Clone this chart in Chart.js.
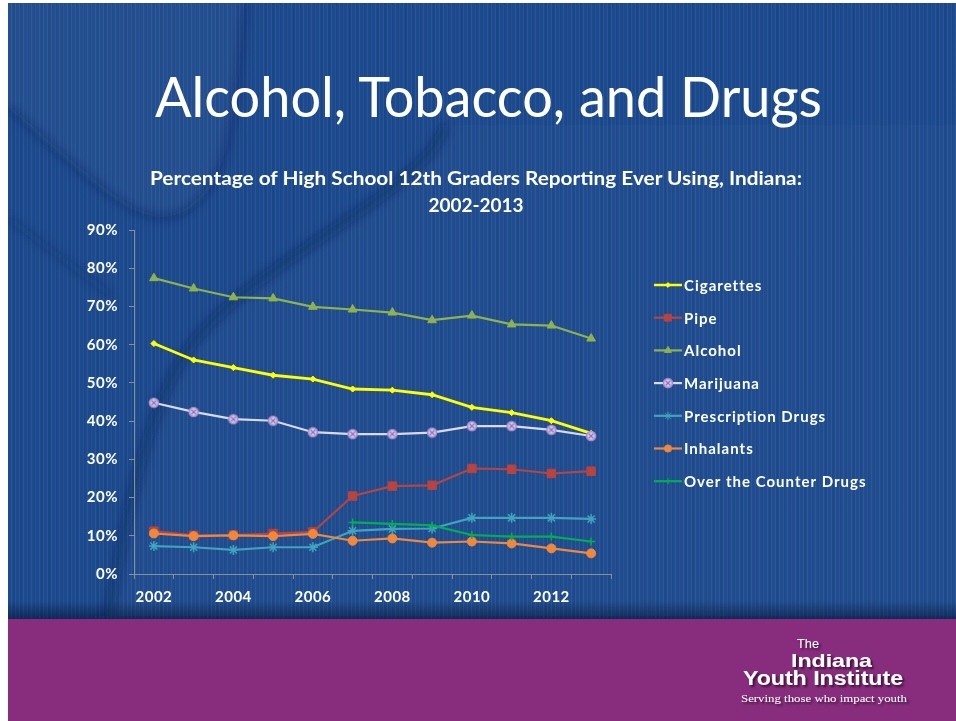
<!DOCTYPE html>
<html>
<head>
<meta charset="utf-8">
<title>Alcohol, Tobacco, and Drugs</title>
<script src="https://cdn.jsdelivr.net/npm/chart.js@4.4.1/dist/chart.umd.min.js"></script>
<style>
  html, body { margin: 0; padding: 0; background: #fff; }
  body { width: 956px; height: 721px; position: relative; overflow: hidden; }
  #slide { position: absolute; left: 8px; top: 3px; width: 948px; height: 718px; overflow: hidden; background: #1c4a8e; }
  #stripes {
    position: absolute; left: 0; top: 0; width: 948px; height: 616px;
    background:
      repeating-linear-gradient(90deg, rgba(255,255,255,0) 0 3px, rgba(255,255,255,0.06) 3px 4px),
      repeating-linear-gradient(90deg, rgba(0,0,0,0) 0 5px, rgba(0,0,0,0.06) 5px 7px);
  }
  #shade { position: absolute; left: 0; top: 598px; width: 948px; height: 18px; background: linear-gradient(rgba(5,20,50,0), rgba(5,20,50,0.6)); }
  #band { position: absolute; left: 0; top: 616px; width: 948px; height: 102px; background: #882d7d; }
  svg, canvas { position: absolute; left: 0; top: 0; }
</style>
</head>
<body>
<div id="slide">
  <div id="stripes"></div>
  <div id="shade"></div>
  <div id="band"></div>
</div>

<!-- background swooshes -->
<svg id="bg" width="956" height="721">
  <defs>
    <clipPath id="blueArea"><rect x="8" y="3" width="948" height="613"/></clipPath>
    <filter id="soft" x="-20%" y="-20%" width="140%" height="140%"><feGaussianBlur stdDeviation="5"/></filter>
  </defs>
  <g clip-path="url(#blueArea)">
    <path d="M8,3 L245,3 C240,60 238,100 230,130 C220,190 190,217 163,217 C135,217 110,200 8,107 Z"
          fill="#ffffff" fill-opacity="0.03"/>
    <path d="M245,3 C240,60 238,100 230,130 C220,190 190,217 163,217 C135,217 110,200 8,107"
          fill="none" stroke="#081c45" stroke-opacity="0.32" stroke-width="6" filter="url(#soft)"/>
    <path d="M8,218 L112,296" fill="none" stroke="#081c45" stroke-opacity="0.25" stroke-width="6" filter="url(#soft)"/>
    <path d="M108,620 C128,500 150,400 195,340 C240,285 330,235 390,190 C420,165 440,145 445,125 L956,125 L956,620 Z"
          fill="#ffffff" fill-opacity="0.02"/>
    <path d="M108,620 C128,500 150,400 195,340 C240,285 330,235 390,190 C420,165 440,145 445,125"
          fill="none" stroke="#081c45" stroke-opacity="0.38" stroke-width="9" filter="url(#soft)"/>
  </g>
</svg>

<canvas id="chart" width="956" height="721"></canvas>

<!-- slide texts -->
<svg id="fg" width="956" height="721">
  <defs>
    <filter id="drop" x="-10%" y="-30%" width="120%" height="160%">
      <feDropShadow dx="2" dy="2" stdDeviation="1.2" flood-color="#000" flood-opacity="0.6"/>
    </filter>
  </defs>
  <g fill="#ffffff">
    <text x="155" y="117" textLength="667" lengthAdjust="spacingAndGlyphs"
          font-family="Lato" font-size="56">Alcohol, Tobacco, and Drugs</text>
    <text x="150" y="185" textLength="652" lengthAdjust="spacingAndGlyphs"
          font-family="Lato" font-weight="bold" font-size="19">Percentage of High School 12th Graders Reporting Ever Using, Indiana:</text>
    <text x="476" y="212" text-anchor="middle"
          font-family="Lato" font-weight="bold" font-size="19">2002-2013</text>
  </g>
  <g fill="#ffffff" filter="url(#drop)" font-family="Liberation Sans">
    <text x="797" y="648" textLength="22" lengthAdjust="spacingAndGlyphs" font-size="12">The</text>
    <text x="791" y="667" textLength="81" lengthAdjust="spacingAndGlyphs" font-size="19" font-weight="bold">Indiana</text>
    <text x="743" y="685" textLength="160" lengthAdjust="spacingAndGlyphs" font-size="20" font-weight="bold">Youth Institute</text>
    <text x="741" y="702" textLength="166" lengthAdjust="spacingAndGlyphs" font-size="11"
          font-family="Liberation Serif">Serving those who impact youth</text>
  </g>
</svg>

<script>
  // ── Data (percent of 12th graders, Indiana) ─────────────────────────────
  const years = ['2002', '2003', '2004', '2005', '2006', '2007', '2008', '2009', '2010', '2011', '2012', '2013'];
  const cigarettes   = [60.3, 56.0, 54.0, 52.0, 51.0, 48.4, 48.1, 46.9, 43.6, 42.2, 40.1, 36.8];
  const pipe         = [11.2, 10.1, 10.2, 10.6, 11.0, 20.4, 23.0, 23.2, 27.6, 27.4, 26.3, 26.9];
  const alcohol      = [77.4, 74.7, 72.4, 72.1, 69.9, 69.2, 68.4, 66.4, 67.6, 65.3, 65.0, 61.6];
  const marijuana    = [44.8, 42.4, 40.5, 40.1, 37.1, 36.6, 36.6, 37.0, 38.7, 38.7, 37.7, 36.1];
  const prescription = [7.3, 7.0, 6.3, 7.0, 7.0, 11.3, 11.8, 11.9, 14.7, 14.7, 14.7, 14.4];
  const inhalants    = [10.6, 9.9, 10.1, 9.9, 10.5, 8.7, 9.3, 8.2, 8.5, 8.0, 6.7, 5.4];
  const otcDrugs     = [null, null, null, null, null, 13.5, 13.1, 12.7, 10.2, 9.8, 9.8, 8.5];
  const yTicks = [0, 10, 20, 30, 40, 50, 60, 70, 80, 90];

  // ── Styling ─────────────────────────────────────────────────────────────
  const AXIS_GREY = '#8a8f96';
  const FONT = { family: 'Lato', weight: 'bold', size: 15 };
  const LEGEND_Y = 285;
  const LEGEND_STEP = 32.7;

  // circle with an x through it, for the marijuana series
  function ringX() {
    const c = document.createElement('canvas');
    c.width = 12; c.height = 12;
    const g = c.getContext('2d');
    g.fillStyle = '#d3c7e6';
    g.strokeStyle = '#a68cc8';
    g.lineWidth = 1.6;
    g.beginPath(); g.arc(6, 6, 4.5, 0, Math.PI * 2); g.fill(); g.stroke();
    g.strokeStyle = '#8c70b6';
    g.lineWidth = 1.2;
    g.beginPath();
    g.moveTo(3.6, 3.6); g.lineTo(8.4, 8.4);
    g.moveTo(8.4, 3.6); g.lineTo(3.6, 8.4);
    g.stroke();
    return c;
  }

  function series(label, data, color, opts) {
    return Object.assign({
      label: label,
      data: data,
      borderColor: color,
      backgroundColor: color,
      pointBackgroundColor: color,
      pointBorderColor: color,
      borderWidth: 2.2,
      pointBorderWidth: 1,
      pointRadius: 4.5,
      tension: 0,
      spanGaps: false,
    }, opts);
  }

  const datasets = [
    series('Cigarettes', cigarettes, '#ffff00', { borderWidth: 2.8, pointStyle: 'rectRot', pointRadius: 3 }),
    series('Pipe', pipe, '#b8433f', { pointStyle: 'rect', pointRadius: 6 }),
    series('Alcohol', alcohol, '#8fb34c', { pointStyle: 'triangle', pointRadius: 5 }),
    series('Marijuana', marijuana, '#dcd8ee', { pointStyle: ringX(), pointRadius: 6 }),
    series('Prescription Drugs', prescription, '#3fa4bd', { pointStyle: 'star', pointRadius: 5, pointBorderWidth: 1.5 }),
    series('Inhalants', inhalants, '#f0873a', { pointStyle: 'circle', pointRadius: 4.5 }),
    series('Over the Counter Drugs', otcDrugs, '#00b050', { pointStyle: 'cross', pointRadius: 4, pointBorderWidth: 1.5 }),
  ];
  // later series on top, like the original
  datasets.forEach((d, i) => { d.order = 10 - i; });

  // slightly wider text, closer to the original face
  const spacing = {
    id: 'spacing',
    beforeDraw(chart) { chart.ctx.letterSpacing = '0.5px'; },
  };

  // ── Legend on the right, line + marker like the original ────────────────
  const sideLegend = {
    id: 'sideLegend',
    afterDraw(chart) {
      const ctx = chart.ctx;
      ctx.save();
      ctx.font = 'bold 15px Lato';
      ctx.letterSpacing = '1px';
      ctx.textBaseline = 'middle';
      chart.data.datasets.forEach((ds, i) => {
        const y = LEGEND_Y + i * LEGEND_STEP;
        ctx.strokeStyle = ds.borderColor;
        ctx.lineWidth = Math.min(ds.borderWidth, 2.5);
        ctx.beginPath();
        ctx.moveTo(654, y);
        ctx.lineTo(682, y);
        ctx.stroke();
        ctx.fillStyle = ds.pointBackgroundColor;
        ctx.strokeStyle = ds.pointBorderColor;
        ctx.lineWidth = 1;
        Chart.helpers.drawPoint(ctx, {
          pointStyle: ds.pointStyle, rotation: 0, radius: ds.pointRadius * 0.8, borderWidth: 1,
        }, 668, y);
        ctx.fillStyle = '#ffffff';
        ctx.fillText(ds.label, 684, y + 1);
      });
      ctx.restore();
    },
  };

  // ── Chart ───────────────────────────────────────────────────────────────
  new Chart(document.getElementById('chart').getContext('2d'), {
    type: 'line',
    data: { labels: years, datasets: datasets },
    plugins: [spacing, sideLegend],
    options: {
      responsive: false,
      animation: false,
      events: [],
      layout: { padding: { left: 0, top: 230, right: 345, bottom: 0 } },
      plugins: {
        legend: { display: false },
        tooltip: { enabled: false },
      },
      scales: {
        x: {
          offset: true,
          grid: { offset: true, drawOnChartArea: false, drawTicks: true, tickLength: 5, color: AXIS_GREY },
          border: { display: true, color: AXIS_GREY, width: 1 },
          ticks: {
            autoSkip: false, maxRotation: 0, padding: 9, color: '#ffffff', font: FONT,
            callback(value, index) { return index % 2 === 0 ? this.getLabelForValue(value) : ''; },
          },
          afterFit(scale) { scale.height = 147; },
        },
        y: {
          min: yTicks[0],
          max: yTicks[yTicks.length - 1],
          afterBuildTicks(scale) { scale.ticks = yTicks.map((v) => ({ value: v })); },
          grid: { drawOnChartArea: false, drawTicks: true, tickLength: 5, color: AXIS_GREY },
          border: { display: true, color: AXIS_GREY, width: 1 },
          ticks: { padding: 11, color: '#ffffff', font: FONT, callback: (v) => v + '%' },
          afterFit(scale) { scale.width = 134; },
        },
      },
    },
  });
</script>
</body>
</html>
